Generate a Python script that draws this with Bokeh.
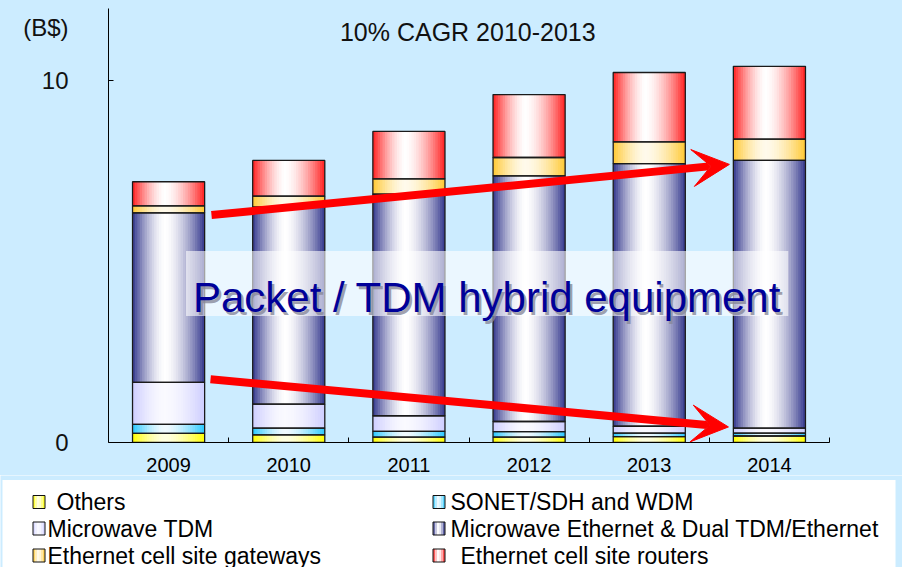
import numpy as np
from bokeh.plotting import figure
from bokeh.models import (FixedTicker, Label, BoxAnnotation, Arrow, VeeHead, Range1d)
from bokeh.layouts import column
from bokeh.embed import file_html
from bokeh.resources import INLINE
from bokeh.core.properties import value

# ---------------- data ----------------
years = ["2009", "2010", "2011", "2012", "2013", "2014"]
others = [0.25, 0.21, 0.15, 0.15, 0.16, 0.18]
sonet_wdm = [0.25, 0.19, 0.16, 0.15, 0.10, 0.08]
mw_tdm = [1.16, 0.66, 0.43, 0.28, 0.19, 0.14]
mw_eth = [4.69, 5.45, 6.13, 6.79, 7.26, 7.40]
cs_gateways = [0.19, 0.30, 0.42, 0.51, 0.60, 0.59]
cs_routers = [0.67, 0.99, 1.31, 1.74, 1.92, 2.01]

series_names = ["Others", "SONET/SDH and WDM", "Microwave TDM",
                "Microwave Ethernet & Dual TDM/Ethernet",
                "Ethernet cell site gateways", "Ethernet cell site routers"]
series_values = [others, sonet_wdm, mw_tdm, mw_eth, cs_gateways, cs_routers]
# (edge colour, centre colour) of the cylinder-like gradient
series_colors = [((255, 255, 0), (255, 255, 225)),
                 ((40, 200, 255), (240, 250, 255)),
                 ((205, 205, 255), (250, 250, 255)),
                 ((50, 54, 140), (255, 255, 255)),
                 ((255, 200, 50), (255, 250, 235)),
                 ((255, 30, 30), (255, 255, 255))]

y_ticks = [0, 10]
unit_pos = 11.48
title_text = "10% CAGR 2010-2013"
unit_text = "(B$)"
banner_text = "Packet / TDM hybrid equipment"

BG = "#CCECFF"
FONT = "Liberation Sans"
BAR_W = 0.6
W = 902
H_CHART = 475
H_LEG = 92


def mix(a, b, w):
    return "#%02x%02x%02x" % tuple(int(round(a[i] * (1 - w) + b[i] * w)) for i in range(3))


def gradient_quads(fig, x0s, x1s, bots, tops, edge, center, n=30, c=0.45, pw=1.6):
    L, R, B, T, C = [], [], [], [], []
    for x0, x1, b, t in zip(x0s, x1s, bots, tops):
        sw = (x1 - x0) / n
        for k in range(n):
            tt = (k + 0.5) / n
            d = (c - tt) / c if tt < c else (tt - c) / (1 - c)
            w = 1 - min(1.0, d) ** pw
            L.append(x0 + k * sw)
            R.append(min(x1, x0 + (k + 1.6) * sw))
            B.append(b)
            T.append(t)
            C.append(mix(edge, center, w))
    fig.quad(left=L, right=R, bottom=B, top=T, fill_color=C, line_color=None)


# ---------------- chart ----------------
p = figure(width=W, height=H_CHART, x_range=Range1d(-0.5, 5.5), y_range=Range1d(0, 12),
           output_backend="svg", toolbar_location=None, frame_align=False,
           min_border_left=108, min_border_right=73, min_border_top=8, min_border_bottom=33,
           background_fill_color=None, border_fill_color=None, outline_line_color=None,
           styles={"background-color": BG})
p.xgrid.visible = False
p.ygrid.visible = False

xs = np.arange(len(years), dtype=float)
vals = np.array(series_values)
tops = np.cumsum(vals, axis=0)
bots = tops - vals

for si in range(len(series_names)):
    edge, center = series_colors[si]
    gradient_quads(p, xs - BAR_W / 2, xs + BAR_W / 2, bots[si], tops[si], edge, center)
for si in range(len(series_names)):
    p.vbar(x=xs, width=BAR_W, bottom=bots[si], top=tops[si],
           fill_color=None, line_color="#1a1a1a", line_width=1.3)

# axes
p.xaxis.ticker = FixedTicker(ticks=list(range(len(years))),
                             minor_ticks=[i - 0.5 for i in range(len(years) + 1)])
p.xaxis.major_label_overrides = {i: y for i, y in enumerate(years)}
p.xaxis.major_tick_line_color = None
p.xaxis.minor_tick_in = 5
p.xaxis.minor_tick_out = 0
p.xaxis.minor_tick_line_color = "black"
p.xaxis.major_label_standoff = 9
p.xaxis.major_label_text_font = FONT
p.xaxis.major_label_text_font_size = "20px"
p.xaxis.major_label_text_color = "black"
p.xaxis.axis_line_color = "black"

p.yaxis.ticker = FixedTicker(ticks=y_ticks + [unit_pos], minor_ticks=[10])
p.yaxis.major_label_overrides = {unit_pos: unit_text}
p.yaxis.major_tick_line_color = None
p.yaxis.minor_tick_in = 5
p.yaxis.minor_tick_out = 0
p.yaxis.minor_tick_line_color = "black"
p.yaxis.major_label_standoff = 34
p.yaxis.major_label_text_font = FONT
p.yaxis.major_label_text_font_size = "24px"
p.yaxis.major_label_text_color = "#111111"
p.yaxis.axis_line_color = "black"

# title
p.add_layout(Label(x=2.49, y=11.35, text=title_text, text_align="center",
                   text_baseline="alphabetic", text_font=FONT, text_font_size="25px",
                   text_color="#111111"))

# banner
p.add_layout(BoxAnnotation(left=0.145, right=5.157, bottom=3.495, top=5.296,
                           fill_color="white", fill_alpha=0.6, line_color=None))
p.add_layout(Label(x=2.65, y=4.0, text=banner_text, text_align="center",
                   text_baseline="alphabetic", text_font=FONT, text_font_size="42px",
                   text_color="#888899", x_offset=2.5, y_offset=-2.5, text_alpha=0.8))
p.add_layout(Label(x=2.65, y=4.0, text=banner_text, text_align="center",
                   text_baseline="alphabetic", text_font=FONT, text_font_size="42px",
                   text_color="#000099"))

# arrows
for (xa, ya, xb, yb) in [(0.357, 6.29, 4.667, 7.69), (0.349, 1.75, 4.659, 0.43)]:
    p.add_layout(Arrow(end=VeeHead(size=37, fill_color="#ff0000", line_color="#ff0000"),
                       x_start=xa, y_start=ya, x_end=xb, y_end=yb,
                       line_color="#ff0000", line_width=8))

# ---------------- legend ----------------
leg = figure(width=W, height=H_LEG, x_range=Range1d(0, W), y_range=Range1d(H_LEG, 0),
             output_backend="svg", toolbar_location=None, min_border=0, frame_align=False,
             x_axis_type=None, y_axis_type=None,
             background_fill_color=BG, border_fill_color=BG, outline_line_color=None)
leg.xgrid.visible = False
leg.ygrid.visible = False
leg.quad(left=[2], right=[895], top=[4.5], bottom=[H_LEG], fill_color="white", line_color=None)

row_y = [26.5, 53, 80]
col_sq = [32.5, 432.5]
col_tx = [47, 450]
text_pad = [9, 0, 0, 0, 0, 10]
for si, name in enumerate(series_names):
    col = si % 2
    row = si // 2
    cy = row_y[row]
    x0 = col_sq[col]
    edge, center = series_colors[si]
    gradient_quads(leg, [x0], [x0 + 12], [cy - 6.5], [cy + 6.5], edge, center, n=6)
    leg.quad(left=[x0], right=[x0 + 12], top=[cy - 6.5], bottom=[cy + 6.5],
             fill_color=None, line_color="#111111", line_width=1)
    leg.text(x=[col_tx[col] + text_pad[si]], y=[cy], text=[name],
             text_font=value(FONT), text_font_size="23px", text_baseline="middle",
             text_align="left", text_color="#000000")

layout = column(p, leg, spacing=0)
open("out.html", "w").write(file_html(layout, INLINE, "chart"))
